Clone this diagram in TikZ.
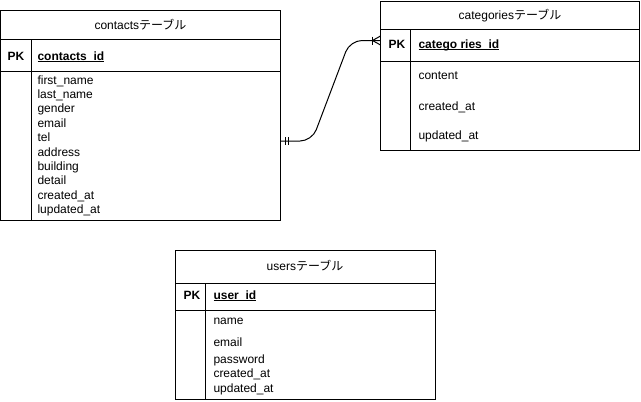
\documentclass[tikz,border=0pt]{standalone}
\usepackage{fontspec}
\setmainfont{Liberation Sans}
\newfontfamily\jpfont{Noto Sans CJK JP}
\usetikzlibrary{positioning}
\newcommand{\tblname}[1]{#1{\jpfont テーブル}}
\newcommand{\pkfield}[1]{\setbox0\hbox{\bfseries #1}\rlap{\rule[-1.8bp]{\wd0}{0.9bp}}\box0}

\begin{document}
\fontsize{12bp}{14.4bp}\selectfont
\begin{tikzpicture}[x=1bp,y=-1bp,line width=1bp,
  tbl/.style={draw,anchor=north west,inner sep=0pt,outer sep=0pt},
  txt/.style={anchor=base west,inner sep=0pt},
  ttl/.style={anchor=base,inner sep=0pt}]
\useasboundingbox (0,0) rectangle (641,401);
%% contacts table
\node [tbl,minimum width=280bp,minimum height=210bp] (contacts) at (0.5,10) {};
\draw (0.5,39) -- (280.5,39);
\draw (0.5,71) -- (280.5,71);
\draw (31,39) -- (31,220);
\node [ttl] (contactsTitle) at (140.5,29.5) {\tblname{contacts}};
\node [txt] (contactsPk) at (7,60.5) {\textbf{PK}};
\node [txt] (contactsId) at (37,60.5) {\pkfield{contacts\_id}};
\node [txt] (contactsFirst) at (37,84) {first\_name};
\node [txt] (contactsLast) at (37,98.4) {last\_name};
\node [txt] (contactsGender) at (37,112.8) {gender};
\node [txt] (contactsEmail) at (37,127.2) {email};
\node [txt] (contactsTel) at (37,141.6) {tel};
\node [txt] (contactsAddress) at (37,156) {address};
\node [txt] (contactsBuilding) at (37,170.4) {building};
\node [txt] (contactsDetail) at (37,184.8) {detail};
\node [txt] (contactsCreated) at (37,199.2) {created\_at};
\node [txt] (contactsUpdated) at (37,213.6) {lupdated\_at};

%% categories table
\node [tbl,minimum width=259bp,minimum height=149bp] (categories) at (380.5,1) {};
\draw (380.5,29) -- (639.5,29);
\draw (380.5,61) -- (639.5,61);
\draw (410,29) -- (410,150);
\node [ttl] (categoriesTitle) at (510,19.5) {\tblname{categories}};
\node [txt] (categoriesPk) at (388,48.5) {\textbf{PK}};
\node [txt] (categoriesId) at (418,48.5) {\pkfield{catego ries\_id}};
\node [txt] (categoriesContent) at (418,79.5) {content};
\node [txt] (categoriesCreated) at (418,110) {created\_at};
\node [txt] (categoriesUpdated) at (418,139.5) {updated\_at};

%% users table
\node [tbl,minimum width=260bp,minimum height=149.5bp] (users) at (175,250) {};
\draw (175,283) -- (435,283);
\draw (175,310) -- (435,310);
\draw (205,283) -- (205,399.5);
\node [ttl] (usersTitle) at (305,270) {\tblname{users}};
\node [txt] (usersPk) at (183,299.5) {\textbf{PK}};
\node [txt] (usersId) at (213,299.5) {\pkfield{user\_id}};
\node [txt] (usersName) at (213,324) {name};
\node [txt] (usersEmail) at (213,346) {email};
\node [txt] (usersPassword) at (213,363.5) {password};
\node [txt] (usersCreated) at (213,377.9) {created\_at};
\node [txt] (usersUpdated) at (213,392.3) {updated\_at};

%relation contacts -- categories
\coordinate (contactsFk) at (280.5,141);
\coordinate (categoriesFk) at (380.5,40.5);
\draw [rounded corners=12bp] (contactsFk) -- (312,141) -- (350,40.5) -- (categoriesFk);
% one and only one
\draw ([shift={(4.5,-4)}]contactsFk) -- ([shift={(4.5,4)}]contactsFk);
\draw ([shift={(8,-4)}]contactsFk) -- ([shift={(8,4)}]contactsFk);
% one or many
\draw ([shift={(-8,-4)}]categoriesFk) -- ([shift={(-8,4)}]categoriesFk);
\draw ([shift={(0,-4.5)}]categoriesFk) -- ([shift={(-8,0)}]categoriesFk) -- ([shift={(0,4.5)}]categoriesFk);
\end{tikzpicture}
\end{document}
